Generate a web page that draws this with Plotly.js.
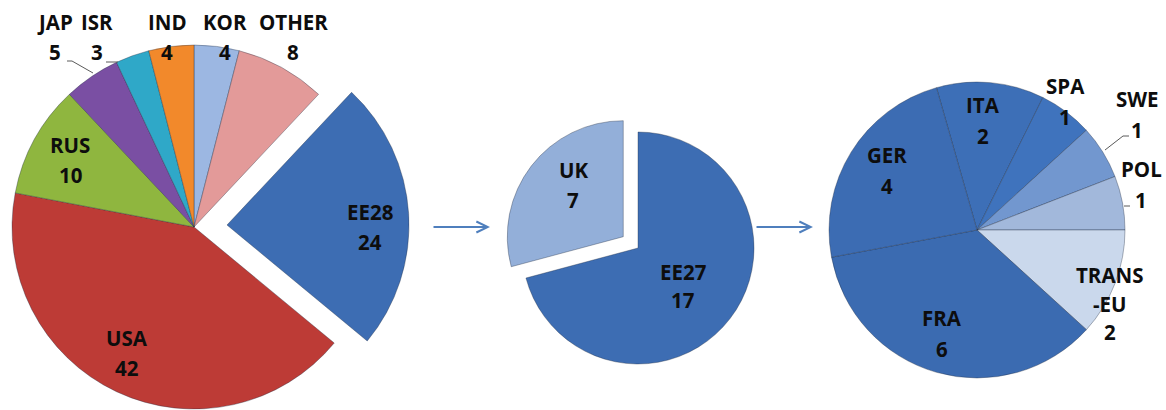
<!DOCTYPE html>
<html>
<head>
<meta charset="utf-8">
<script src="https://cdn.plot.ly/plotly-3.0.1.min.js"></script>
<style>html,body{margin:0;padding:0;background:#fff;}#chart{width:1166px;height:410px;}</style>
</head>
<body>
<div id="chart"></div>
<script>
// ---- data ----
var worldLabels = ['KOR', 'OTHER', 'EE28', 'USA', 'RUS', 'JAP', 'ISR', 'IND'];
var worldValues = [4, 8, 24, 42, 10, 5, 3, 4];
var worldColors = ['#9cb7e2', '#e39a99', '#3d6db3', '#bd3b36', '#8fb63f', '#7a4fa3', '#2fa8c8', '#f2892b'];

var euLabels = ['EE27', 'UK'];
var euValues = [17, 7];
var euColors = ['#3d6db3', '#93afd9'];

var ee27Labels = ['ITA', 'SPA', 'SWE', 'POL', 'TRANS-EU', 'FRA', 'GER'];
var ee27Values = [2, 1, 1, 1, 2, 6, 4];
var ee27Colors = ['#3d6fb7', '#3f73bd', '#7297cf', '#a2b8db', '#cad8ec', '#3b6bb1', '#3c6cb3'];

// ---- helpers ----
var W = 1166, H = 410;
function dom(cx, cy, half) {
  var clamp = function (v) { return Math.max(0, Math.min(1, v)); };
  return {
    x: [clamp((cx - half) / W), clamp((cx + half) / W)],
    y: [clamp((H - cy - half) / H), clamp((H - cy + half) / H)]
  };
}
function px(x) { return x / W; }
function py(y) { return 1 - y / H; }

var lineCol = 'rgba(30,40,60,0.35)';
var TRANSP = 'rgba(0,0,0,0)';
var explodedIdx = worldLabels.indexOf('EE28');

var baseColors = worldColors.map(function (c, i) { return i === explodedIdx ? TRANSP : c; });
var baseLines = worldColors.map(function (c, i) { return i === explodedIdx ? TRANSP : lineCol; });
var expColors = worldColors.map(function (c, i) { return i === explodedIdx ? c : TRANSP; });
var expLines = worldColors.map(function (c, i) { return i === explodedIdx ? lineCol : TRANSP; });

var common = {type: 'pie', sort: false, direction: 'clockwise', textinfo: 'none', hoverinfo: 'label+value', showlegend: false};

var traces = [
  Object.assign({}, common, {
    labels: worldLabels, values: worldValues, rotation: 0,
    marker: {colors: baseColors, line: {color: baseLines, width: 1}},
    domain: dom(194, 227, 182)
  }),
  Object.assign({}, common, {
    labels: worldLabels, values: worldValues, rotation: 0,
    marker: {colors: expColors, line: {color: expLines, width: 1}},
    domain: dom(227, 225, 182)
  }),
  Object.assign({}, common, {
    labels: euLabels, values: euValues, rotation: 0, pull: [0, 0.16],
    marker: {colors: euColors, line: {color: lineCol, width: 1}},
    domain: dom(638, 248, 116 * 1.16)
  }),
  Object.assign({}, common, {
    labels: ee27Labels, values: ee27Values, rotation: 344.1,
    marker: {colors: ee27Colors, line: {color: lineCol, width: 1}},
    domain: dom(977, 230, 148)
  })
];

// ---- label placement (pixel positions for name line and value line) ----
var FONT = {family: 'Open Sans, Lato, sans-serif', size: 20.5, color: '#0d0d0d'};
var annotations = [];
function addLabel(nameLines, value, x, y, gap) {
  var lines = nameLines.concat([String(value)]);
  lines.forEach(function (t, k) {
    annotations.push({
      xref: 'paper', yref: 'paper', x: px(x), y: py(y + k * gap),
      text: '<b>' + t + '</b>', showarrow: false, font: FONT,
      xanchor: 'center', yanchor: 'middle'
    });
  });
}
var worldPos = {
  KOR: [225, 22], OTHER: [293, 22], EE28: [370, 212], USA: [127, 338],
  RUS: [70, 145], JAP: [55, 22], ISR: [97, 22], IND: [167, 22]
};
worldLabels.forEach(function (l, i) {
  addLabel([l], worldValues[i], worldPos[l][0], worldPos[l][1], 30);
});
var euPos = {EE27: [683, 272], UK: [573, 170]};
euLabels.forEach(function (l, i) {
  addLabel([l], euValues[i], euPos[l][0], euPos[l][1], l === 'EE27' ? 28 : 30);
});
var eePos = {
  ITA: [983, 105], SPA: [1065, 86], SWE: [1137, 99], POL: [1141, 169],
  'TRANS-EU': [1110, 275], FRA: [942, 318], GER: [887, 155]
};
ee27Labels.forEach(function (l, i) {
  var lines = l === 'TRANS-EU' ? ['TRANS', '-EU'] : [l];
  addLabel(lines, ee27Values[i], eePos[l][0], eePos[l][1], l === 'TRANS-EU' ? 28.5 : 31);
});

// flow arrows
[[432, 490], [755, 813]].forEach(function (a) {
  annotations.push({
    xref: 'paper', yref: 'paper', x: px(a[1]), y: py(227), ax: a[0] - a[1], ay: 0,
    axref: 'pixel', ayref: 'pixel', text: '', showarrow: true,
    arrowhead: 5, arrowsize: 1, arrowwidth: 2.2, arrowcolor: '#4f7fbd'
  });
});

// leader lines
var leaders = [
  [[67, 61], [72, 61], [93, 73]],
  [[106, 62], [118, 62]],
  [[1129, 136], [1123, 136], [1105, 150]],
  [[1130, 206], [1124, 206]]
];
var shapes = [];
leaders.forEach(function (pts) {
  for (var k = 0; k < pts.length - 1; k++) {
    shapes.push({
      type: 'line', xref: 'paper', yref: 'paper',
      x0: px(pts[k][0]), y0: py(pts[k][1]), x1: px(pts[k + 1][0]), y1: py(pts[k + 1][1]),
      line: {color: '#5a5a5a', width: 1}
    });
  }
});

var layout = {
  width: W, height: H,
  margin: {l: 0, r: 0, t: 0, b: 0},
  paper_bgcolor: '#ffffff',
  showlegend: false,
  annotations: annotations,
  shapes: shapes
};

Plotly.newPlot('chart', traces, layout, {displayModeBar: false, staticPlot: true});
</script>
</body>
</html>
